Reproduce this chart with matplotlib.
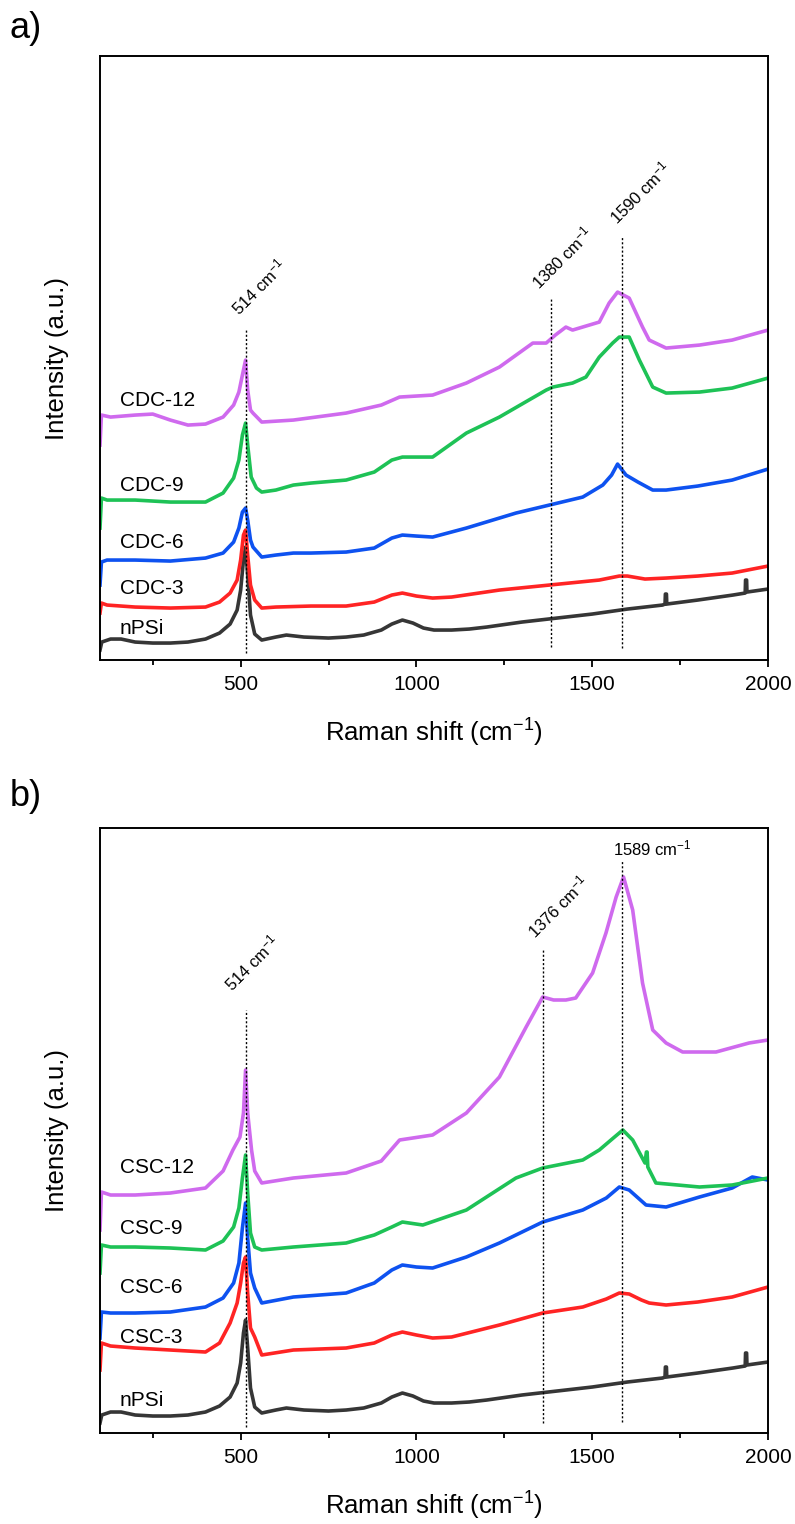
import matplotlib.pyplot as plt
from matplotlib.ticker import MultipleLocator

plt.rcParams['font.family'] = ['Liberation Sans', 'DejaVu Sans']
plt.rcParams['mathtext.fontset'] = 'custom'
plt.rcParams['mathtext.rm'] = 'Liberation Sans'
plt.rcParams['mathtext.it'] = 'Liberation Sans'
plt.rcParams['mathtext.default'] = 'regular'

# colours of the five spectra
c_npsi = '#363636'
c_3 = '#ff2424'
c_6 = '#0e52f0'
c_9 = '#1ec256'
c_12 = '#cf6aee'

# ---- nPSi (same spectrum in both panels) ----
npsi_x = [100, 105, 130, 160, 200, 250, 300, 350, 400, 440, 470, 490, 500, 508, 514, 520, 528, 540,
          560, 600, 630, 680, 750, 800, 850, 900, 930, 960, 990, 1020, 1050, 1100, 1150, 1200, 1300,
          1400, 1500, 1600, 1700, 1707, 1708, 1711, 1712, 1800, 1900, 1935, 1936, 1939, 1940, 1960, 2000]
npsi_y = [10, 18, 21, 21, 18, 17, 17, 18, 21, 27, 36, 50, 70, 100, 113, 85, 45, 26,
          20, 23, 25, 23, 22, 23, 25, 30, 36, 40, 37, 32, 30, 30, 31, 33, 38,
          42, 46, 51, 55, 56, 66, 66, 56, 60, 65, 67, 80, 80, 68, 69, 71]

# ---- panel a: CDC series ----
cdc3_x = [100, 104, 120, 200, 300, 400, 440, 470, 490, 500, 508, 514, 520, 528, 540, 560, 600, 700, 800,
          880, 930, 960, 1000, 1046, 1100, 1236, 1378, 1520, 1577, 1600, 1650, 1710, 1800, 1898, 2000]
cdc3_y = [47, 57, 55, 53, 52, 53, 58, 67, 80, 100, 125, 130, 105, 75, 60, 52, 53, 54, 54,
          58, 65, 67, 64, 62, 63, 70, 75, 80, 84, 84, 81, 82, 84, 87, 94]

cdc6_x = [100, 104, 120, 200, 300, 400, 450, 480, 495, 505, 514, 520, 528, 535, 560, 600, 650, 700, 800,
          880, 930, 960, 1000, 1046, 1142, 1283, 1378, 1473, 1530, 1555, 1572, 1596, 1630, 1672, 1710,
          1800, 1898, 2000]
cdc6_y = [75, 98, 100, 100, 99, 102, 107, 118, 132, 148, 152, 140, 120, 113, 103, 105, 107, 107, 108,
          112, 122, 125, 124, 123, 132, 147, 155, 163, 175, 185, 196, 185, 178, 170, 170,
          174, 180, 191]

cdc9_x = [100, 104, 120, 200, 300, 400, 450, 480, 495, 505, 514, 520, 530, 545, 560, 600, 650, 700, 800,
          880, 930, 960, 1000, 1046, 1142, 1236, 1300, 1369, 1388, 1444, 1482, 1520, 1558, 1577, 1605,
          1634, 1672, 1710, 1805, 1898, 2000]
cdc9_y = [132, 162, 160, 160, 158, 158, 167, 182, 200, 225, 237, 215, 183, 172, 168, 170, 175, 177, 180,
          188, 200, 203, 203, 203, 227, 243, 256, 270, 273, 277, 283, 303, 317, 323, 323,
          300, 273, 267, 268, 272, 282]

cdc12_x = [100, 104, 130, 200, 250, 300, 350, 400, 450, 480, 495, 505, 514, 520, 528, 535, 560, 650, 800,
           900, 952, 1046, 1142, 1236, 1331, 1369, 1395, 1425, 1444, 1520, 1548, 1572, 1605, 1643, 1662,
           1710, 1805, 1898, 2000]
cdc12_y = [215, 245, 243, 245, 246, 240, 235, 236, 243, 255, 268, 285, 300, 270, 250, 247, 238, 240, 247,
           255, 263, 265, 277, 293, 317, 317, 325, 333, 330, 338, 357, 368, 362, 333, 320,
           312, 315, 320, 330]

# ---- panel b: CSC series ----
csc3_x = [100, 104, 130, 200, 300, 400, 440, 470, 490, 500, 508, 514, 520, 528, 540, 560, 650, 800, 880,
          930, 960, 1000, 1046, 1100, 1236, 1359, 1473, 1540, 1577, 1605, 1640, 1662, 1710, 1800, 1898, 2000]
csc3_y = [63, 90, 87, 85, 83, 81, 90, 110, 130, 150, 170, 176, 140, 105, 96, 78, 83, 85, 90,
          98, 101, 98, 95, 96, 108, 120, 126, 134, 140, 139, 133, 130, 128, 131, 136, 146]

csc6_x = [100, 104, 130, 200, 300, 400, 450, 480, 495, 505, 514, 520, 528, 540, 560, 650, 800, 880, 930,
          960, 1000, 1046, 1142, 1236, 1359, 1473, 1540, 1577, 1605, 1653, 1710, 1805, 1898, 1955, 2000]
csc6_y = [95, 121, 120, 120, 121, 126, 135, 150, 170, 205, 230, 195, 160, 145, 130, 136, 140, 150, 163,
          168, 166, 165, 176, 190, 211, 223, 235, 246, 243, 228, 226, 236, 245, 256, 253]

csc9_x = [100, 104, 130, 200, 300, 400, 450, 480, 495, 505, 514, 520, 528, 540, 560, 650, 800, 880, 930,
          960, 1018, 1142, 1283, 1359, 1473, 1520, 1560, 1587, 1615, 1650, 1654, 1656, 1658, 1681, 1805,
          1898, 2000]
csc9_y = [160, 188, 186, 186, 185, 183, 192, 206, 225, 255, 278, 240, 200, 186, 183, 186, 190, 198, 206,
          211, 208, 223, 255, 265, 273, 283, 295, 303, 293, 270, 281, 281, 266, 250, 246,
          248, 255]

csc12_x = [100, 104, 130, 200, 300, 400, 450, 478, 498, 508, 514, 520, 531, 540, 560, 650, 800, 900, 952,
           1046, 1142, 1236, 1312, 1359, 1390, 1425, 1453, 1501, 1539, 1568, 1589, 1615, 1643, 1672,
           1710, 1757, 1852, 1946, 2000]
csc12_y = [203, 241, 238, 238, 240, 245, 262, 283, 296, 320, 363, 320, 283, 262, 250, 255, 260, 272, 293,
           298, 320, 356, 406, 436, 433, 433, 435, 460, 500, 536, 556, 523, 450, 403,
           390, 381, 381, 390, 393]

labels_a = ['nPSi', 'CDC-3', 'CDC-6', 'CDC-9', 'CDC-12']
label_pos_a = [32, 72, 118, 175, 260]
labels_b = ['nPSi', 'CSC-3', 'CSC-6', 'CSC-9', 'CSC-12']
label_pos_b = [33, 96, 146, 205, 266]

# peak marker lines: (x, y from, y to)
peaks_a = [(514, 7, 332), (1384, 13, 362), (1586, 12, 423)]
peaks_b = [(514, 6, 423), (1360, 10, 483), (1586, 11, 573)]

fig = plt.figure(figsize=(7.95, 15.24), dpi=100)
ax1 = fig.add_axes([0.1258, 0.5669, 0.8403, 0.3963])
ax2 = fig.add_axes([0.1258, 0.0597, 0.8403, 0.3970])

series_a = [(npsi_x, npsi_y, c_npsi), (cdc3_x, cdc3_y, c_3), (cdc6_x, cdc6_y, c_6),
            (cdc9_x, cdc9_y, c_9), (cdc12_x, cdc12_y, c_12)]
series_b = [(npsi_x, npsi_y, c_npsi), (csc3_x, csc3_y, c_3), (csc6_x, csc6_y, c_6),
            (csc9_x, csc9_y, c_9), (csc12_x, csc12_y, c_12)]

for ax, series, labels, lpos, peaks, ymax in [(ax1, series_a, labels_a, label_pos_a, peaks_a, 604),
                                              (ax2, series_b, labels_b, label_pos_b, peaks_b, 605)]:
    for x, y, c in series:
        ax.plot(x, y, color=c, lw=2.6, solid_joinstyle='round')
    for px, y0, y1 in peaks:
        ax.plot([px, px], [y0, y1], color='black', lw=1.0, ls=(0, (1.5, 1.5)))
    for name, yp in zip(labels, lpos):
        ax.text(157, yp, name, fontsize=15, ha='left', va='center')
    ax.set_xlim(100, 2000)
    ax.set_ylim(0, ymax)
    ax.set_yticks([])
    ax.xaxis.set_major_locator(MultipleLocator(500))
    ax.xaxis.set_minor_locator(MultipleLocator(250))
    ax.tick_params(axis='x', which='major', direction='out', length=5, width=1.3, labelsize=15, pad=6)
    ax.tick_params(axis='x', which='minor', direction='out', length=3.5, width=1.3)
    for s in ax.spines.values():
        s.set_linewidth(1.4)
    ax.set_xlabel('Raman shift (cm$^{-1}$)', fontsize=18.5, labelpad=16)
    ax.set_ylabel('Intensity (a.u.)', fontsize=18.5, labelpad=22)

# peak annotations
ax1.text(552, 373, '514 cm$^{-1}$', fontsize=12, rotation=45, rotation_mode='anchor',
         ha='center', va='center')
ax1.text(1415, 403, '1380 cm$^{-1}$', fontsize=12, rotation=45, rotation_mode='anchor',
         ha='center', va='center')
ax1.text(1637, 468, '1590 cm$^{-1}$', fontsize=12, rotation=45, rotation_mode='anchor',
         ha='center', va='center')
ax2.text(532, 470, '514 cm$^{-1}$', fontsize=12, rotation=45, rotation_mode='anchor',
         ha='center', va='center')
ax2.text(1404, 527, '1376 cm$^{-1}$', fontsize=12, rotation=45, rotation_mode='anchor',
         ha='center', va='center')
ax2.text(1671, 585, '1589 cm$^{-1}$', fontsize=12, ha='center', va='center')

fig.text(0.012, 0.993, 'a)', fontsize=26, ha='left', va='top')
fig.text(0.012, 0.489, 'b)', fontsize=26, ha='left', va='top')

fig.savefig('out.png', dpi=100)
